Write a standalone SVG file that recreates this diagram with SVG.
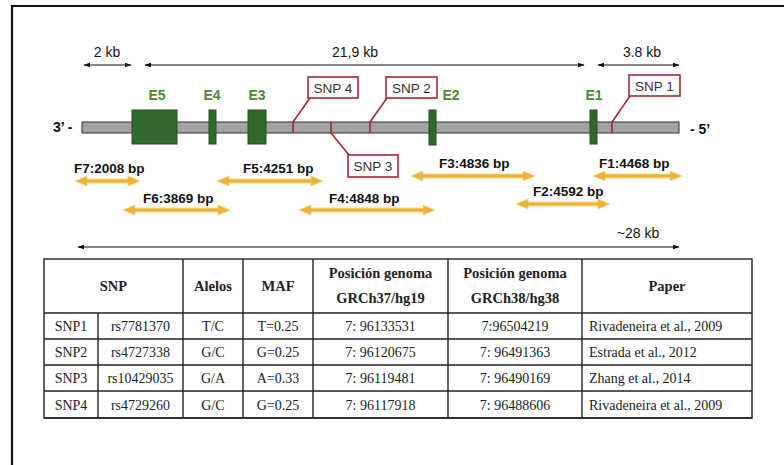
<svg xmlns="http://www.w3.org/2000/svg" width="784" height="465" viewBox="0 0 784 465">
<defs>
<marker id="ah" viewBox="0 0 10 10" refX="9" refY="5" markerWidth="7" markerHeight="7" orient="auto-start-reverse" markerUnits="userSpaceOnUse">
<path d="M0,1.5 L10,5 L0,8.5 z" fill="#111"/>
</marker>
<style>
.sans{font-family:"Liberation Sans",Arial,sans-serif;fill:#111}
.scale{font-size:14px}
.frag{font-size:13.5px;font-weight:bold}
.ex{font-size:14px;font-weight:bold;fill:#4b8b2f;text-anchor:middle}
.end{font-size:14px;font-weight:bold}
.snpt{font-size:13.5px;fill:#333;text-anchor:middle}
.sline{stroke:#111;stroke-width:1;fill:none}
.exon{fill:#2f6a2b;stroke:#22501f;stroke-width:1}
.bar{fill:#a3a3a3;stroke:#333;stroke-width:1}
.box{fill:#fff;stroke:#a02a33;stroke-width:1.6}
.lead{stroke:#a02a33;stroke-width:1.6;fill:none}
.farr{fill:#f0b232;stroke:#f6d888;stroke-width:1}
.tb{font-family:"Liberation Serif","Times New Roman",serif;fill:#222;font-size:14px}
.th{font-weight:bold;text-anchor:middle;font-size:14.5px}
.c{text-anchor:middle}
.tl{stroke:#222;stroke-width:1.4;fill:none}
</style>
</defs>
<rect x="0" y="0" width="784" height="465" fill="#fff"/>
<path d="M12,465 L12,6 L784,6" fill="none" stroke="#111" stroke-width="2.2"/>

<g id="scales">
<text class="sans scale" x="107" y="57" text-anchor="middle">2 kb</text>
<line class="sline" x1="84" y1="65" x2="131" y2="65" marker-start="url(#ah)" marker-end="url(#ah)"/>
<text class="sans scale" x="355" y="57" text-anchor="middle">21,9 kb</text>
<line class="sline" x1="145" y1="65" x2="584" y2="65" marker-start="url(#ah)" marker-end="url(#ah)"/>
<text class="sans scale" x="642" y="57" text-anchor="middle">3.8 kb</text>
<line class="sline" x1="598" y1="65" x2="679" y2="65" marker-start="url(#ah)" marker-end="url(#ah)"/>
<text class="sans scale" x="638" y="238" text-anchor="middle">~28 kb</text>
<line class="sline" x1="78" y1="247" x2="679" y2="247" marker-start="url(#ah)" marker-end="url(#ah)"/>
</g>

<g id="gene">
<rect class="bar" x="82" y="122" width="597" height="11"/>
<text class="sans end" x="53" y="132">3’ -</text>
<text class="sans end" x="690" y="134">- 5’</text>
</g>

<g id="exons">
<g id="E5"><rect class="exon" x="132" y="110" width="45" height="34"/><text class="sans ex" x="157" y="100">E5</text></g>
<g id="E4"><rect class="exon" x="209" y="110" width="7" height="34"/><text class="sans ex" x="212" y="100">E4</text></g>
<g id="E3"><rect class="exon" x="248" y="110" width="18" height="34"/><text class="sans ex" x="257" y="100">E3</text></g>
<g id="E2"><rect class="exon" x="429" y="110" width="7" height="35"/><text class="sans ex" x="451" y="100">E2</text></g>
<g id="E1"><rect class="exon" x="590" y="110" width="7" height="34"/><text class="sans ex" x="594" y="100">E1</text></g>
</g>

<g id="connectors">
<path class="lead" d="M293,133 L293,122 L310,98"/>
<path class="lead" d="M331,122 L331,133 L349,155"/>
<path class="lead" d="M370,133 L370,122 L387,98"/>
<path class="lead" d="M612,133 L612,122 L630,96"/>
</g>

<g id="SNP4"><rect class="box" x="308" y="77" width="50" height="21"/><text class="sans snpt" x="333" y="92.5">SNP 4</text></g>
<g id="SNP2"><rect class="box" x="386" y="77" width="51" height="21"/><text class="sans snpt" x="411.5" y="92.5">SNP 2</text></g>
<g id="SNP3"><rect class="box" x="348" y="155" width="50" height="22"/><text class="sans snpt" x="373" y="171">SNP 3</text></g>
<g id="SNP1"><rect class="box" x="629" y="75" width="51" height="21"/><text class="sans snpt" x="654.5" y="90.5">SNP 1</text></g>

<g id="fragments">
<g id="F7"><text class="sans frag" x="74" y="173">F7:2008 bp</text>
<polygon class="farr" points="75,181 87,176 87,179 128,179 128,176 140,181 128,186 128,183 87,183 87,186"/></g>
<g id="F6"><text class="sans frag" x="143" y="203">F6:3869 bp</text>
<polygon class="farr" points="123,210 135,205 135,208 218,208 218,205 230,210 218,215 218,212 135,212 135,215"/></g>
<g id="F5"><text class="sans frag" x="243" y="173">F5:4251 bp</text>
<polygon class="farr" points="217,181 229,176 229,179 311,179 311,176 323,181 311,186 311,183 229,183 229,186"/></g>
<g id="F4"><text class="sans frag" x="329" y="203">F4:4848 bp</text>
<polygon class="farr" points="299,210 311,205 311,208 423,208 423,205 435,210 423,215 423,212 311,212 311,215"/></g>
<g id="F3"><text class="sans frag" x="439" y="168">F3:4836 bp</text>
<polygon class="farr" points="411,176 423,171 423,174 523,174 523,171 535,176 523,181 523,178 423,178 423,181"/></g>
<g id="F1"><text class="sans frag" x="599" y="168">F1:4468 bp</text>
<polygon class="farr" points="593,176 605,171 605,174 670,174 670,171 682,176 670,181 670,178 605,178 605,181"/></g>
<g id="F2"><text class="sans frag" x="533" y="196">F2:4592 bp</text>
<polygon class="farr" points="516,204 528,199 528,202 598,202 598,199 610,204 598,209 598,206 528,206 528,209"/></g>
</g>

<g id="table">
<rect class="tl" x="44" y="259" width="708" height="159"/>
<line class="tl" x1="44" y1="418" x2="752" y2="418" stroke-width="2.2"/>
<line class="tl" x1="44" y1="313" x2="752" y2="313"/>
<line class="tl" x1="44" y1="339" x2="752" y2="339"/>
<line class="tl" x1="44" y1="365" x2="752" y2="365"/>
<line class="tl" x1="44" y1="391" x2="752" y2="391"/>
<line class="tl" x1="98" y1="313" x2="98" y2="418"/>
<line class="tl" x1="183" y1="259" x2="183" y2="418"/>
<line class="tl" x1="243" y1="259" x2="243" y2="418"/>
<line class="tl" x1="313" y1="259" x2="313" y2="418"/>
<line class="tl" x1="448" y1="259" x2="448" y2="418"/>
<line class="tl" x1="582" y1="259" x2="582" y2="418"/>
<g class="tb">
<text class="th" x="113.5" y="291">SNP</text>
<text class="th" x="213" y="291">Alelos</text>
<text class="th" x="278" y="291">MAF</text>
<text class="th" x="380.5" y="278">Posición genoma</text>
<text class="th" x="380.5" y="302.5">GRCh37/hg19</text>
<text class="th" x="515" y="278">Posición genoma</text>
<text class="th" x="515" y="302.5">GRCh38/hg38</text>
<text class="th" x="667" y="291">Paper</text>

<text class="c" x="71" y="331">SNP1</text>
<text class="c" x="140.5" y="331">rs7781370</text>
<text class="c" x="213" y="331">T/C</text>
<text class="c" x="278" y="331">T=0.25</text>
<text class="c" x="380.5" y="331">7: 96133531</text>
<text class="c" x="515" y="331">7:96504219</text>
<text x="589" y="331">Rivadeneira et al., 2009</text>

<text class="c" x="71" y="357">SNP2</text>
<text class="c" x="140.5" y="357">rs4727338</text>
<text class="c" x="213" y="357">G/C</text>
<text class="c" x="278" y="357">G=0.25</text>
<text class="c" x="380.5" y="357">7: 96120675</text>
<text class="c" x="515" y="357">7: 96491363</text>
<text x="589" y="357">Estrada et al., 2012</text>

<text class="c" x="71" y="383">SNP3</text>
<text class="c" x="140.5" y="383">rs10429035</text>
<text class="c" x="213" y="383">G/A</text>
<text class="c" x="278" y="383">A=0.33</text>
<text class="c" x="380.5" y="383">7: 96119481</text>
<text class="c" x="515" y="383">7: 96490169</text>
<text x="589" y="383">Zhang et al., 2014</text>

<text class="c" x="71" y="409.5">SNP4</text>
<text class="c" x="140.5" y="409.5">rs4729260</text>
<text class="c" x="213" y="409.5">G/C</text>
<text class="c" x="278" y="409.5">G=0.25</text>
<text class="c" x="380.5" y="409.5">7: 96117918</text>
<text class="c" x="515" y="409.5">7: 96488606</text>
<text x="589" y="409.5">Rivadeneira et al., 2009</text>
</g>
</g>
</svg>
